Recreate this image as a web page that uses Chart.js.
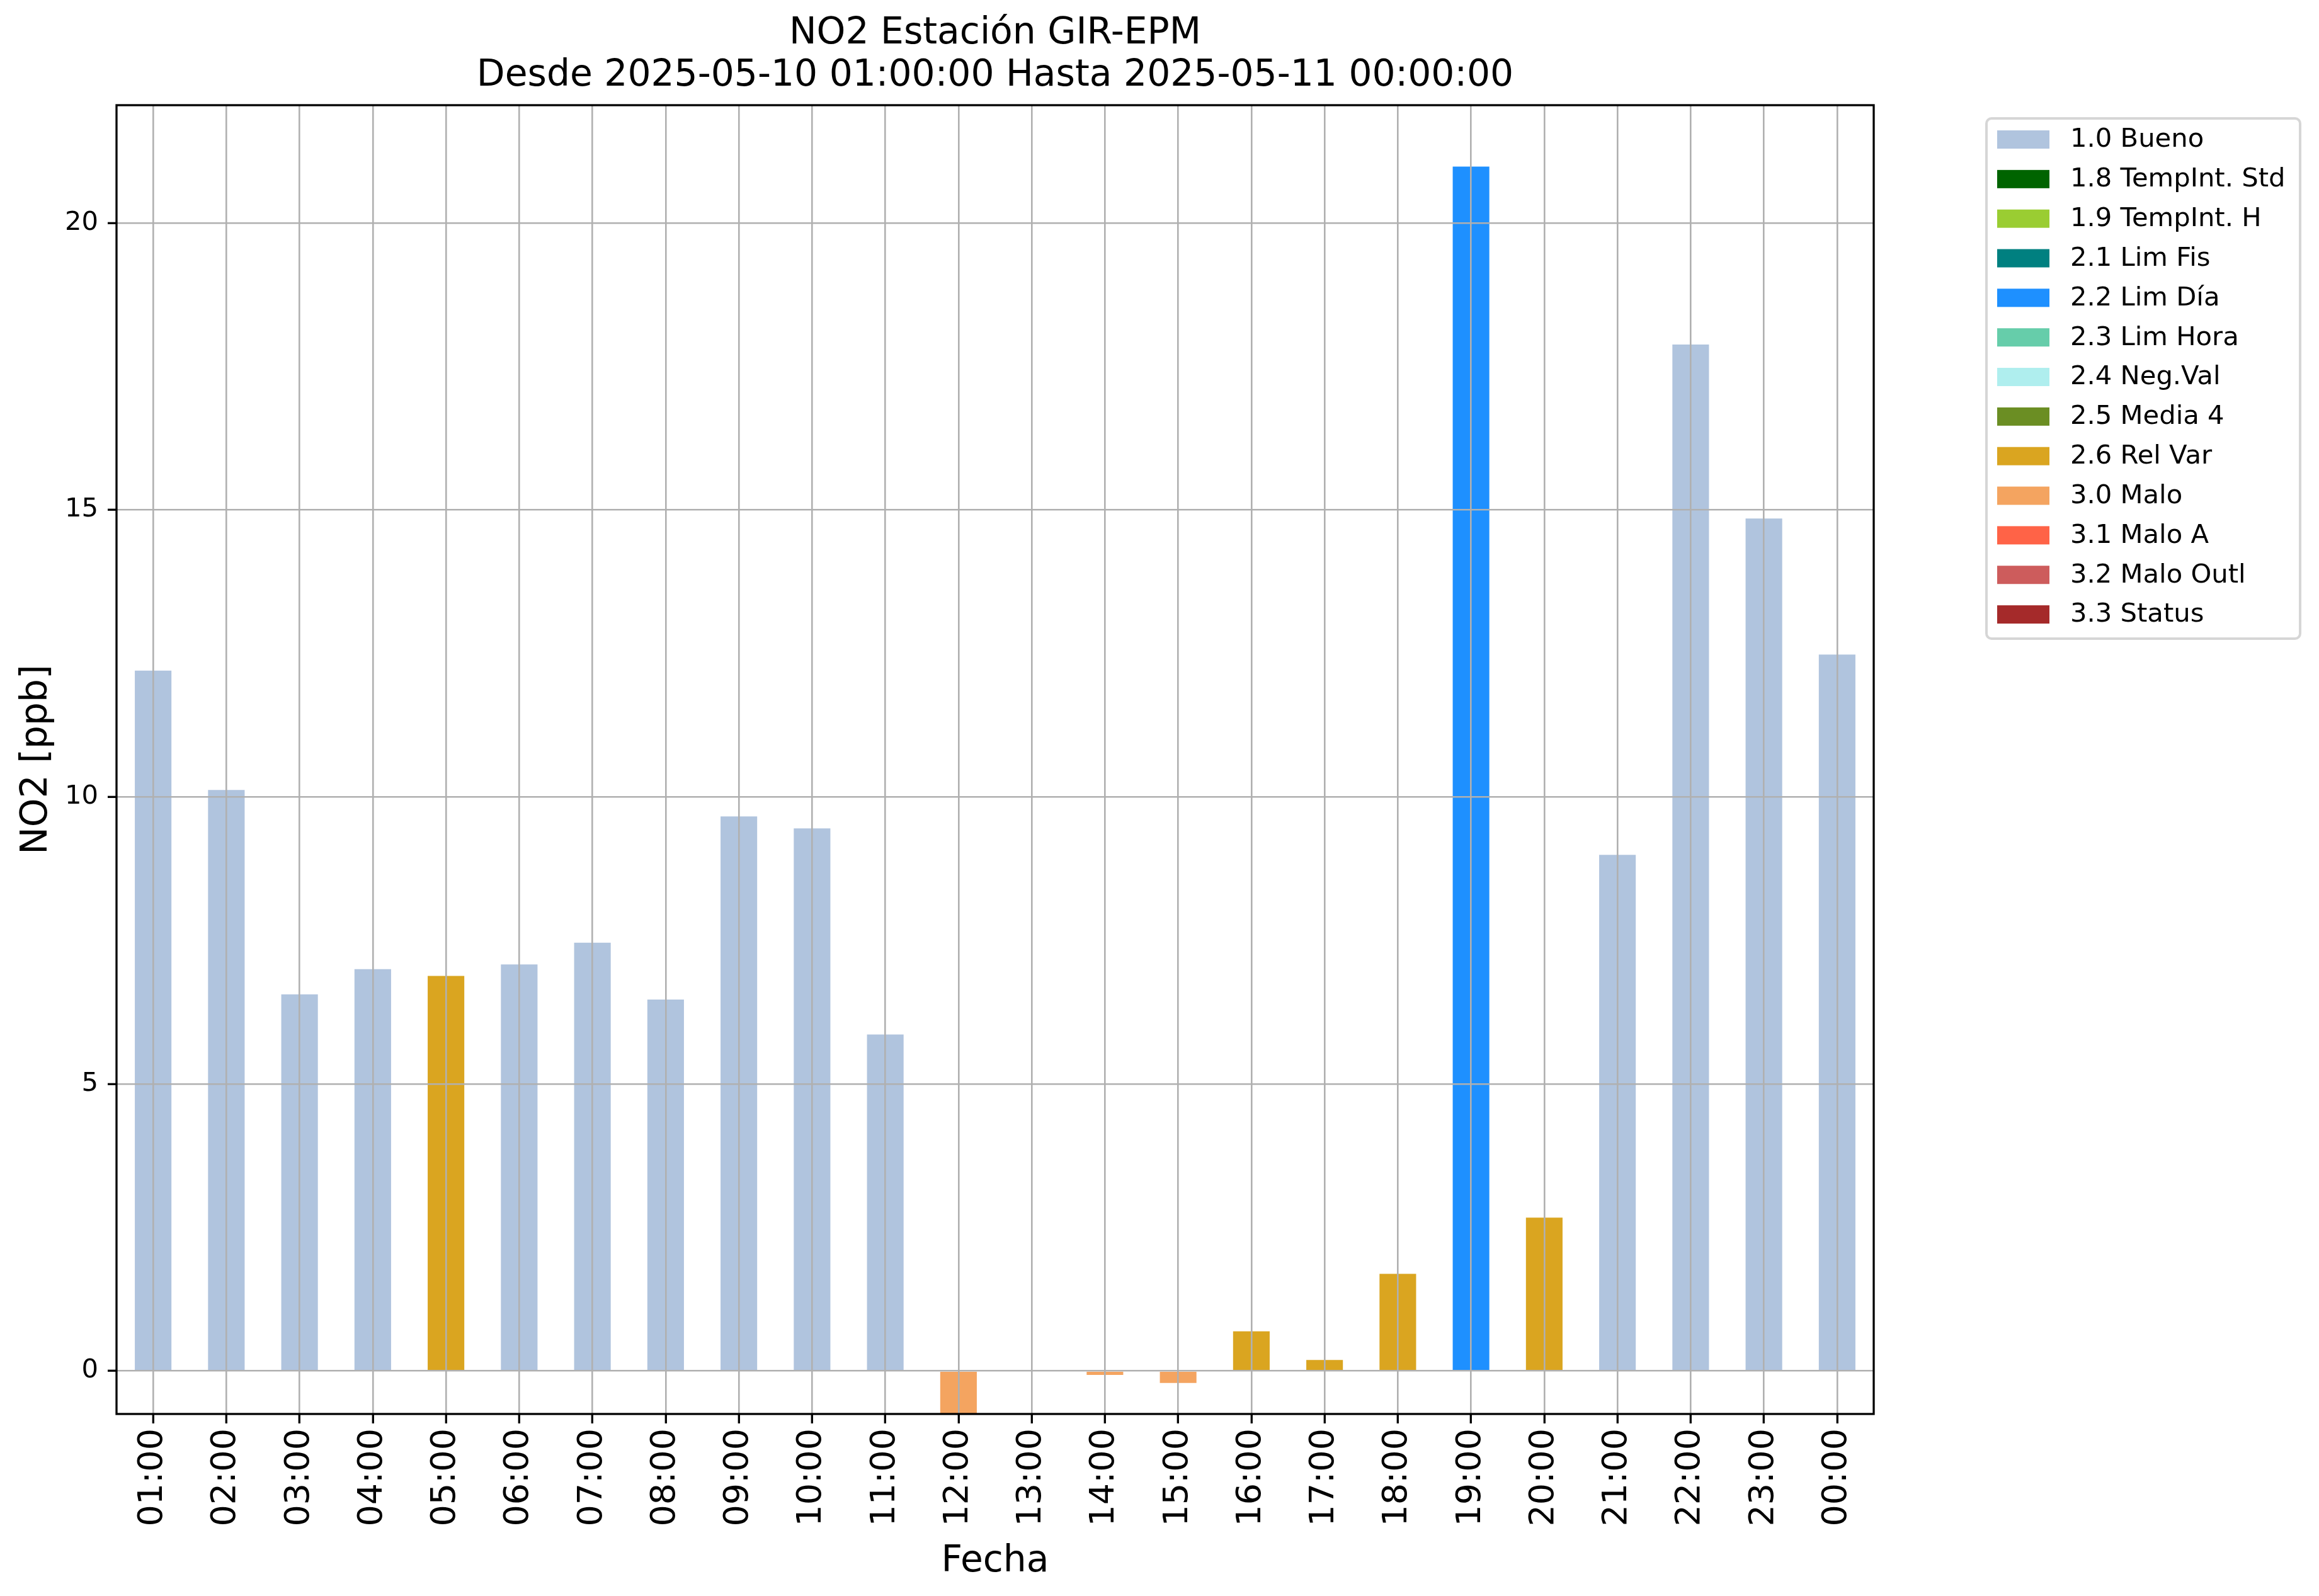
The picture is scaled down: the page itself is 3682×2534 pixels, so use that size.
<!DOCTYPE html>
<html>
<head>
<meta charset="utf-8">
<script src="https://cdn.jsdelivr.net/npm/chart.js@4"></script>
<style>
  html, body { margin: 0; padding: 0; background: #ffffff; }
  #wrap { width: 3682px; height: 2534px; position: relative; }
  canvas { display: block; }
</style>
</head>
<body>
<div id="wrap"><canvas id="c" width="3682" height="2534"></canvas></div>
<script>
// ---------------- DATA ----------------
const hours = ['01:00','02:00','03:00','04:00','05:00','06:00','07:00','08:00','09:00','10:00','11:00','12:00',
               '13:00','14:00','15:00','16:00','17:00','18:00','19:00','20:00','21:00','22:00','23:00','00:00'];
const no2Values = [12.20, 10.12, 6.56, 7.00, 6.88, 7.08, 7.46, 6.47, 9.66, 9.45, 5.86, -0.75,
                   null, -0.07, -0.21, 0.69, 0.19, 1.69, 20.98, 2.67, 8.99, 17.88, 14.85, 12.48];
const hourFlags = ['1.0','1.0','1.0','1.0','2.6','1.0','1.0','1.0','1.0','1.0','1.0','3.0',
                   '3.0','3.0','3.0','2.6','2.6','2.6','2.2','2.6','1.0','1.0','1.0','1.0'];
const flagCodes  = ['1.0','1.8','1.9','2.1','2.2','2.3','2.4','2.5','2.6','3.0','3.1','3.2','3.3'];
const flagNames  = ['1.0 Bueno','1.8 TempInt. Std','1.9 TempInt. H','2.1 Lim Fis','2.2 Lim Día','2.3 Lim Hora',
                    '2.4 Neg.Val','2.5 Media 4','2.6 Rel Var','3.0 Malo','3.1 Malo A','3.2 Malo Outl','3.3 Status'];
const flagColors = ['#B0C4DE','#006400','#9ACD32','#008080','#1E90FF','#66CDAA',
                    '#AFEEEE','#6B8E23','#DAA520','#F4A460','#FF6347','#CD5C5C','#A52A2A'];
const yTickValues = [0, 5, 10, 15, 20];
const titleLines = ['NO2 Estación GIR-EPM', 'Desde 2025-05-10 01:00:00 Hasta 2025-05-11 00:00:00'];
const yLimits = [-0.75, 22.05];

// ---------------- BUILD ----------------
const FONT = "'DejaVu Sans', 'Liberation Sans', sans-serif";
const datasets = flagCodes.map((code, i) => ({
  label: flagNames[i],
  backgroundColor: flagColors[i],
  borderWidth: 0,
  barPercentage: 0.5,
  categoryPercentage: 1.0,
  data: hours.map((h, j) => (hourFlags[j] === code && no2Values[j] !== null) ? no2Values[j] : null)
}));

const titlePlugin = {
  id: 'mplTitle',
  afterDraw(chart) {
    const ctx = chart.ctx;
    const ca = chart.chartArea;
    const cx = (ca.left + ca.right) / 2;
    ctx.save();
    ctx.fillStyle = '#000';
    ctx.textAlign = 'center';
    ctx.textBaseline = 'middle';
    ctx.font = `58.3px ${FONT}`;
    ctx.fillText(titleLines[0], cx, 54);
    ctx.fillText(titleLines[1], cx, 121);
    ctx.restore();
  }
};

const framePlugin = {
  id: 'frame',
  afterDraw(chart) {
    const ctx = chart.ctx;
    const ca = chart.chartArea;
    ctx.save();
    ctx.strokeStyle = '#000';
    ctx.lineWidth = 3.3;
    ctx.strokeRect(ca.left, ca.top, ca.right - ca.left, ca.bottom - ca.top);
    ctx.restore();
  }
};

const legendPlugin = {
  id: 'mplLegend',
  afterDraw(chart) {
    const ctx = chart.ctx;
    const bx = 3154, by = 188, bw = 498, bh = 826, r = 8;
    ctx.save();
    ctx.fillStyle = 'rgba(255,255,255,0.8)';
    ctx.strokeStyle = 'rgba(204,204,204,0.8)';
    ctx.lineWidth = 4;
    ctx.beginPath();
    ctx.moveTo(bx + r, by);
    ctx.arcTo(bx + bw, by, bx + bw, by + bh, r);
    ctx.arcTo(bx + bw, by + bh, bx, by + bh, r);
    ctx.arcTo(bx, by + bh, bx, by, r);
    ctx.arcTo(bx, by, bx + bw, by, r);
    ctx.closePath();
    ctx.fill();
    ctx.stroke();
    ctx.font = `41.7px ${FONT}`;
    ctx.textAlign = 'left';
    ctx.textBaseline = 'middle';
    chart.data.datasets.forEach((ds, i) => {
      const cy = 221.5 + i * 62.84;
      ctx.fillStyle = ds.backgroundColor;
      ctx.fillRect(3171, cy - 14.5, 83, 29);
      ctx.fillStyle = '#000';
      ctx.fillText(ds.label, 3287, cy + 1);
    });
    ctx.restore();
  }
};

new Chart(document.getElementById('c'), {
  type: 'bar',
  data: { labels: hours, datasets },
  options: {
    responsive: false,
    animation: false,
    devicePixelRatio: 1,
    layout: { padding: { left: 0, top: 167, right: 707, bottom: 0 } },
    plugins: {
      legend: { display: false },
      title: { display: false },
      tooltip: { enabled: false }
    },
    scales: {
      x: {
        type: 'category',
        stacked: true,
        offset: true,
        afterFit(s) { s.height = 289; },
        grid: {
          offset: false, color: '#b0b0b0', lineWidth: 2.6, z: 1,
          drawTicks: true, tickColor: '#000', tickLength: 15, tickWidth: 3.3
        },
        border: { display: false },
        ticks: {
          autoSkip: false, maxRotation: 90, minRotation: 90, padding: 8,
          color: '#000', font: { family: FONT, size: 54 }
        },
        title: {
          display: true, text: 'Fecha', color: '#000',
          font: { family: FONT, size: 58.3 }, padding: { top: 0, bottom: 19 }
        }
      },
      y: {
        stacked: true,
        min: yLimits[0],
        max: yLimits[1],
        afterFit(s) { s.width = 185; },
        afterBuildTicks(s) { s.ticks = yTickValues.map(v => ({ value: v })); },
        grid: {
          color: '#b0b0b0', lineWidth: 2.6, z: 1,
          drawTicks: true, tickColor: '#000', tickLength: 14, tickWidth: 3.3
        },
        border: { display: false },
        ticks: {
          stepSize: 5, includeBounds: false, padding: 15,
          color: '#000', font: { family: FONT, size: 41.7 }
        },
        title: {
          display: true, text: 'NO2 [ppb]', color: '#000',
          font: { family: FONT, size: 58.3 }, padding: { top: 24, bottom: 0 }
        }
      }
    }
  },
  plugins: [titlePlugin, framePlugin, legendPlugin]
});
</script>
</body>
</html>
